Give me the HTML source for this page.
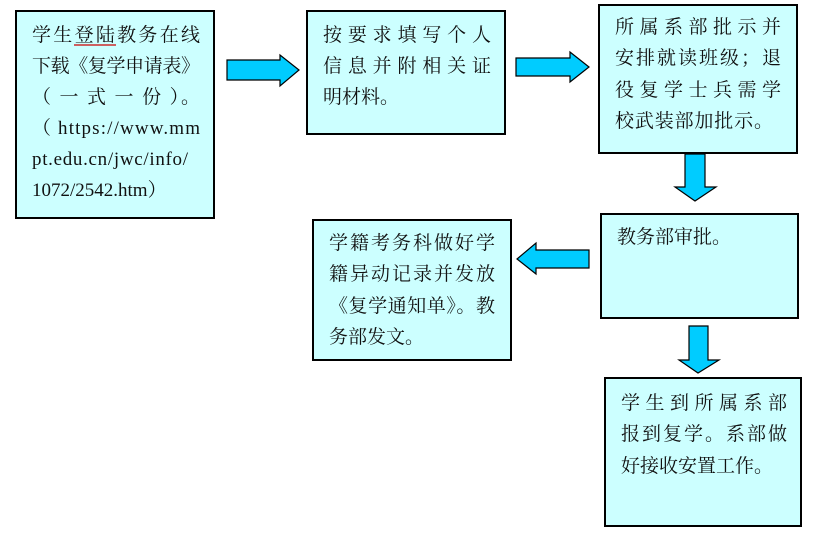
<!DOCTYPE html>
<html><head><meta charset="utf-8"><style>
html,body{margin:0;padding:0;background:#fff;}
svg text{font-family:"Liberation Serif","Noto Serif CJK SC",serif;font-size:19px;fill:#111;}
</style></head><body>
<svg width="828" height="538" xmlns="http://www.w3.org/2000/svg">
<g fill="#ccffff" stroke="#000" stroke-width="2">
<rect x="16" y="11" width="198" height="207"/>
<rect x="307" y="11" width="198" height="123"/>
<rect x="599" y="5" width="198" height="148"/>
<rect x="601" y="214" width="197" height="104"/>
<rect x="313" y="220" width="198" height="140"/>
<rect x="605" y="378" width="196" height="148"/>
</g>
<g fill="#00ccff" stroke="#000" stroke-width="1.2">
<polygon points="227,60 280,60 280,55 299,70 280,86 280,80 227,80"/>
<polygon points="516,58 570,58 570,52 589,67 570,82 570,76 516,76"/>
<polygon points="685,154 705,154 705,187 716,187 695,201 675,187 685,187"/>
<polygon points="589,250 536,250 536,243 517,259 536,274 536,268 589,268"/>
<polygon points="689,326 708,326 708,360 719,360 698,373 679,360 689,360"/>
</g>
<g>
<text x="32" y="41" textLength="168" lengthAdjust="spacing">学生登陆教务在线</text>
<line x1="74" y1="45" x2="116" y2="45" stroke="#c00" stroke-width="1.2"/>
<text x="32" y="72" textLength="168" lengthAdjust="spacing">下载《复学申请表》</text>
<text x="32" y="103" textLength="168" lengthAdjust="spacing">（ 一 式 一 份 ）。</text>
<text x="32" y="134" textLength="168" lengthAdjust="spacing">（ https://www.mm</text>
<text x="32" y="165" textLength="156" lengthAdjust="spacing">pt.edu.cn/jwc/info/</text>
<text x="32" y="196">1072/2542.htm）</text>
<text x="323" y="41" textLength="168" lengthAdjust="spacing">按要求填写个人</text>
<text x="323" y="72" textLength="168" lengthAdjust="spacing">信息并附相关证</text>
<text x="323" y="103">明材料。</text>
<text x="615" y="33" textLength="166" lengthAdjust="spacing">所属系部批示并</text>
<text x="615" y="64" textLength="166" lengthAdjust="spacing">安排就读班级；退</text>
<text x="615" y="96" textLength="166" lengthAdjust="spacing">役复学士兵需学</text>
<text x="615" y="127" textLength="158" lengthAdjust="spacing">校武装部加批示。</text>
<text x="617" y="243">教务部审批。</text>
<text x="329" y="249" textLength="166" lengthAdjust="spacing">学籍考务科做好学</text>
<text x="329" y="280" textLength="166" lengthAdjust="spacing">籍异动记录并发放</text>
<text x="329" y="312" textLength="166" lengthAdjust="spacing">《复学通知单》。教</text>
<text x="329" y="343">务部发文。</text>
<text x="621" y="409" textLength="166" lengthAdjust="spacing">学生到所属系部</text>
<text x="621" y="440" textLength="166" lengthAdjust="spacing">报到复学。系部做</text>
<text x="621" y="472">好接收安置工作。</text>
</g>
</svg>
</body></html>
